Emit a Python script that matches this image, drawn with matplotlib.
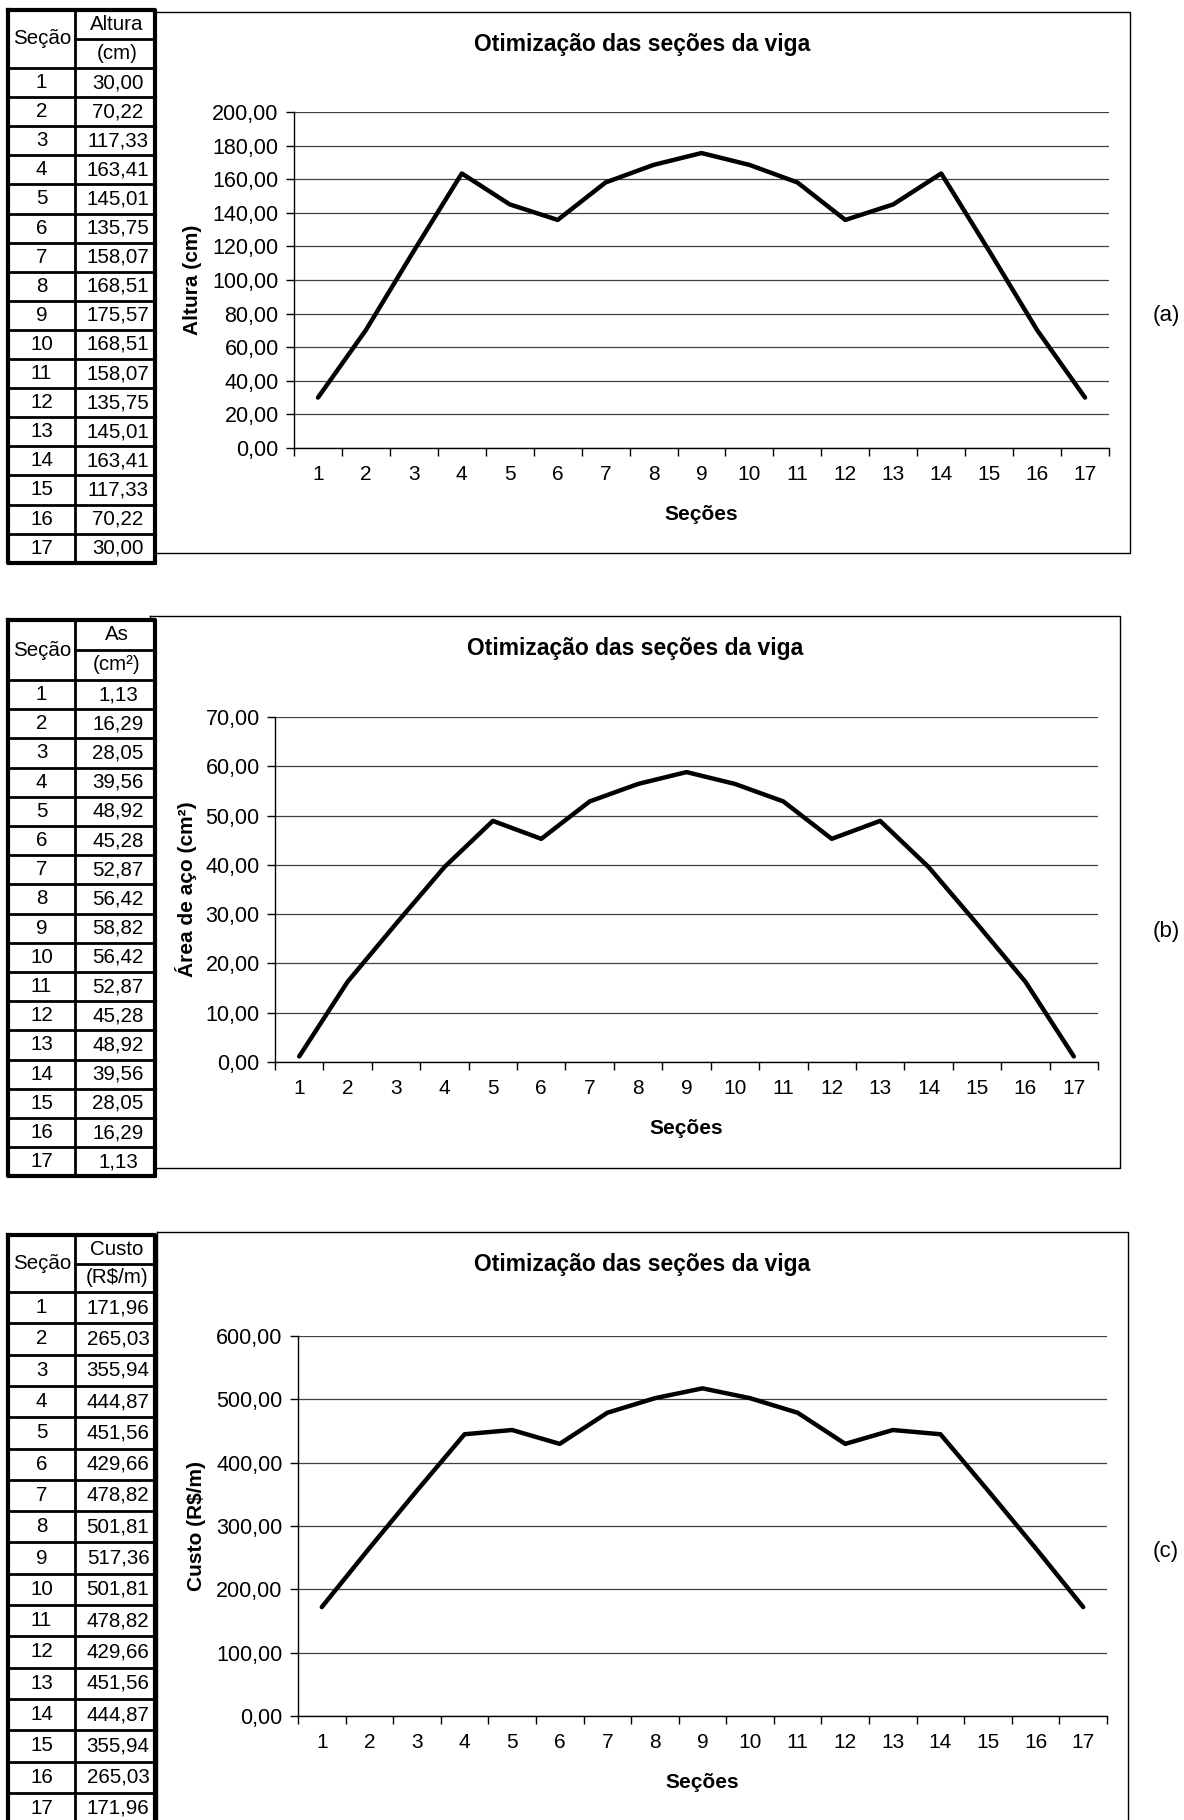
import matplotlib
matplotlib.use("Agg")
import matplotlib.pyplot as plt
from matplotlib.ticker import FuncFormatter, MultipleLocator, FixedLocator

plt.rcParams["font.family"] = ["Liberation Sans", "DejaVu Sans"]

W, H = 1184, 1820

secoes = list(range(1, 18))
altura = [30.00, 70.22, 117.33, 163.41, 145.01, 135.75, 158.07, 168.51, 175.57,
          168.51, 158.07, 135.75, 145.01, 163.41, 117.33, 70.22, 30.00]
area_aco = [1.13, 16.29, 28.05, 39.56, 48.92, 45.28, 52.87, 56.42, 58.82,
            56.42, 52.87, 45.28, 48.92, 39.56, 28.05, 16.29, 1.13]
custo = [171.96, 265.03, 355.94, 444.87, 451.56, 429.66, 478.82, 501.81, 517.36,
         501.81, 478.82, 429.66, 451.56, 444.87, 355.94, 265.03, 171.96]

titulo = "Otimização das seções da viga"

# one entry per panel: data, table header, y label, y range, layout in pixels
panels = [
    dict(values=altura, head=("Altura", "(cm)"), ylabel="Altura (cm)", ymax=200, step=20,
         letter="(a)", table=(10, 29, 29.1), frame=(155, 12, 1130, 553),
         plot=(294, 112, 1109, 448), title_y=44, xlabel_y=515, ylabel_x=193, letter_y=316),
    dict(values=area_aco, head=("As", "(cm²)"), ylabel="Área de aço (cm²)", ymax=70, step=10,
         letter="(b)", table=(620, 30, 29.2), frame=(150, 616, 1120, 1168),
         plot=(275, 717, 1098, 1062), title_y=648, xlabel_y=1128, ylabel_x=186, letter_y=932),
    dict(values=custo, head=("Custo", "(R$/m)"), ylabel="Custo (R$/m)", ymax=600, step=100,
         letter="(c)", table=(1235, 28.5, 31.3), frame=(157, 1232, 1128, 1840),
         plot=(298, 1336, 1107, 1716), title_y=1265, xlabel_y=1782, ylabel_x=197, letter_y=1552),
]


def fmt_br(v, _pos=None):
    return f"{v:.2f}".replace(".", ",")


fig = plt.figure(figsize=(W / 100, H / 100), dpi=100)

ov = fig.add_axes([0, 0, 1, 1], zorder=5)
ov.set_xlim(0, W)
ov.set_ylim(H, 0)
ov.axis("off")
ov.patch.set_alpha(0)

col_l, col_m, col_r = 8, 75, 155
fs_tab = 14.8

for p in panels:
    # chart frame
    fx0, fy0, fx1, fy1 = p["frame"]
    ov.plot([fx0, fx1, fx1, fx0, fx0], [fy0, fy0, fy1, fy1, fy0], color="black", lw=1.0)

    # plot area
    x0, y0, x1, y1 = p["plot"]
    ax = fig.add_axes([x0 / W, 1 - y1 / H, (x1 - x0) / W, (y1 - y0) / H])
    ax.plot(secoes, p["values"], color="black", lw=3.2, solid_capstyle="round")
    ax.set_xlim(0.5, 17.5)
    ax.set_ylim(0, p["ymax"])
    ax.yaxis.set_major_locator(MultipleLocator(p["step"]))
    ax.yaxis.set_major_formatter(FuncFormatter(fmt_br))
    ax.grid(axis="y", color="#404040", lw=0.9)
    ax.set_axisbelow(True)
    ax.set_xticks(secoes)
    ax.set_xticklabels([str(s) for s in secoes])
    ax.xaxis.set_minor_locator(FixedLocator([s - 0.5 for s in secoes] + [17.5]))
    ax.tick_params(axis="x", which="major", length=0, pad=12, labelsize=15)
    ax.tick_params(axis="x", which="minor", length=6, width=1, direction="out")
    ax.tick_params(axis="y", length=6, width=1, pad=5, labelsize=15.5)
    for side in ("top", "right"):
        ax.spines[side].set_visible(False)
    for side in ("left", "bottom"):
        ax.spines[side].set_linewidth(1.0)
    ax.patch.set_alpha(0)

    ov.text((fx0 + fx1) / 2, p["title_y"], titulo, ha="center", va="center",
            fontsize=16.5, fontweight="bold")
    ov.text((x0 + x1) / 2, p["xlabel_y"], "Seções", ha="center", va="center",
            fontsize=15, fontweight="bold")
    ov.text(p["ylabel_x"], (y0 + y1) / 2, p["ylabel"], ha="center", va="center",
            rotation=90, fontsize=15, fontweight="bold")
    ov.text(1166, p["letter_y"], p["letter"], ha="center", va="center", fontsize=16)

    # table on the left
    t0, hh, rh = p["table"]
    d0 = t0 + 2 * hh
    bottom = d0 + 17 * rh
    ov.fill_between([col_l, col_r], t0, bottom, color="white", zorder=2)
    for k in range(18):
        y = d0 + k * rh
        ov.plot([col_l, col_r], [y, y], color="black", lw=2.0, zorder=3)
    ov.plot([col_m, col_r], [t0 + hh, t0 + hh], color="black", lw=2.0, zorder=3)
    ov.plot([col_m, col_m], [t0, bottom], color="black", lw=2.0, zorder=3)
    ov.plot([col_l, col_r, col_r, col_l, col_l], [t0, t0, bottom, bottom, t0],
            color="black", lw=3.0, zorder=4)
    ov.text((col_l + col_m) / 2 + 1, t0 + hh, "Seção", ha="center", va="center", fontsize=fs_tab, zorder=5)
    ov.text((col_m + col_r) / 2 + 2, t0 + hh / 2, p["head"][0], ha="center", va="center", fontsize=fs_tab, zorder=5)
    ov.text((col_m + col_r) / 2 + 2, t0 + 1.5 * hh, p["head"][1], ha="center", va="center", fontsize=fs_tab, zorder=5)
    for k, (s, v) in enumerate(zip(secoes, p["values"])):
        yc = d0 + (k + 0.5) * rh
        ov.text((col_l + col_m) / 2, yc, str(s), ha="center", va="center", fontsize=fs_tab, zorder=5)
        ov.text((col_m + col_r) / 2 + 3, yc, fmt_br(v), ha="center", va="center", fontsize=fs_tab, zorder=5)

fig.savefig("out.png", dpi=100)
